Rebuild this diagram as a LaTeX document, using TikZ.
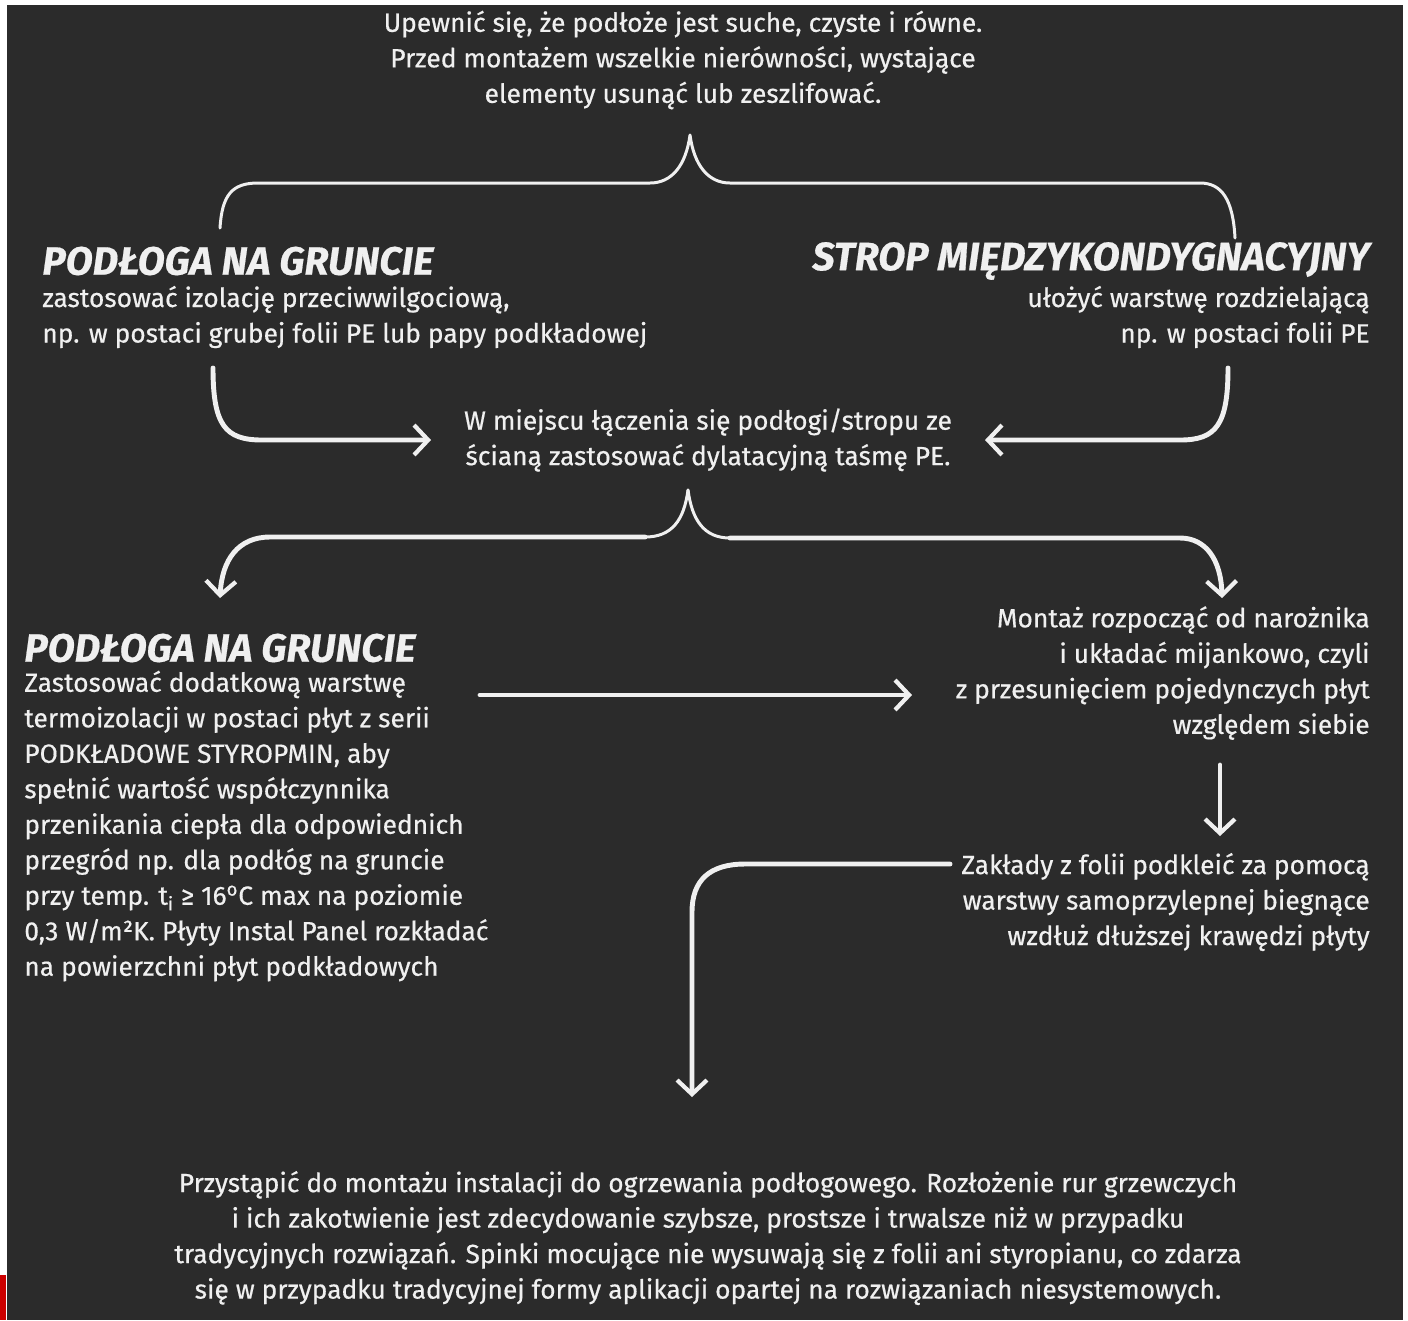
\documentclass[tikz,border=0pt]{standalone}
\usepackage{fontspec}
\setmainfont[FakeBold=0.5]{Fira Sans}
\usetikzlibrary{positioning}
\usetikzlibrary{arrows.meta}
\definecolor{board}{HTML}{2B2B2B}
\definecolor{chalk}{HTML}{F0F0F0}

\begin{document}
\begin{tikzpicture}[x=0.02cm, y=-0.02cm,
    txt/.style={text=chalk, font=\fontsize{15}{20.2}\selectfont, inner sep=0pt},
    head/.style={text=chalk, font=\fontsize{22.5}{25}\selectfont\bfseries\itshape, inner sep=0pt},
    chalkline/.style={draw=chalk, line width=2.8pt, line cap=round, line join=round},
    thinchalk/.style={draw=chalk, line width=1.7pt, line cap=round, line join=round},
    chalkarrow/.style={-{Straight Barb[length=8pt, width=17pt, line width=2.4pt]}}]

    % Board
    \useasboundingbox (0,0) rectangle (1408,1320);
    \fill[white] (0,0) rectangle (1408,1320);
    \fill[board] (7,5) rectangle (1403,1320);
    \fill[red!80!black] (0,1275) rectangle (6,1320);

    % Nodes
    \node[txt, align=center] at (683,60) (prep) {Upewnić się, że podłoże jest suche, czyste i równe.\\Przed montażem wszelkie nierówności, wystające\\elementy usunąć lub zeszlifować.};
    \node[head, anchor=west] at (42,261) (ground_head) {PODŁOGA NA GRUNCIE};
    \node[txt, align=left, anchor=west] at (42,317) (ground_txt) {zastosować izolację przeciwwilgociową,\\np. w postaci grubej folii PE lub papy podkładowej};
    \node[head, anchor=east] at (1370,261) (strop_head) {STROP MIĘDZYKONDYGNACYJNY};
    \node[txt, align=right, anchor=east] at (1370,317) (strop_txt) {ułożyć warstwę rozdzielającą\\np. w postaci folii PE};
    \node[txt, align=center] at (708,440) (tape) {W miejscu łączenia się podłogi/stropu ze\\ścianą zastosować dylatacyjną taśmę PE.};
    \node[head, anchor=west] at (24,648) (extra_head) {PODŁOGA NA GRUNCIE};
    \node[txt, align=left, anchor=west] at (24,826) (extra_txt) {Zastosować dodatkową warstwę\\termoizolacji w postaci płyt z serii\\PODKŁADOWE STYROPMIN, aby\\spełnić wartość współczynnika\\przenikania ciepła dla odpowiednich\\przegród np. dla podłóg na gruncie\\przy temp. t\textsubscript{i} ≥ 16\textsuperscript{o}C max na poziomie\\0,3 W/m²K. Płyty Instal Panel rozkładać\\na powierzchni płyt podkładowych};
    \node[txt, align=right, anchor=east] at (1370,673) (start) {Montaż rozpocząć od narożnika\\i układać mijankowo, czyli\\z przesunięciem pojedynczych płyt\\względem siebie};
    \node[txt, align=right, anchor=east] at (1370,902) (laps) {Zakłady z folii podkleić za pomocą\\warstwy samoprzylepnej biegnące\\wzdłuż dłuższej krawędzi płyty};
    \node[txt, align=center] at (708,1238) (heating) {Przystąpić do montażu instalacji do ogrzewania podłogowego. Rozłożenie rur grzewczych\\i ich zakotwienie jest zdecydowanie szybsze, prostsze i trwalsze niż w przypadku\\tradycyjnych rozwiązań. Spinki mocujące nie wysuwają się z folii ani styropianu, co zdarza\\się w przypadku tradycyjnej formy aplikacji opartej na rozwiązaniach niesystemowych.};

    % Brace points
    \coordinate (peak1) at (690,135);
    \coordinate (peak2) at (688,490);
    \coordinate (ground_in) at (213,368);
    \coordinate (strop_in) at (1228,368);
    \coordinate (tape_l) at (431,440);
    \coordinate (tape_r) at (985,440);
    \coordinate (extra_in) at (220,598);
    \coordinate (start_in) at (1222,598);
    \coordinate (row_from) at (480,695);
    \coordinate (row_to) at (912,695);
    \coordinate (start_out) at (1220,765);
    \coordinate (laps_in) at (1220,836);
    \coordinate (laps_out) at (950,864);
    \coordinate (heating_in) at (692,1097);

    % Arrows
    \draw[thinchalk] (220,228) .. controls (222,195) and (232,183) .. (258,183) -- (650,183)
        .. controls (672,183) and (686,165) .. (peak1)
        .. controls (694,165) and (708,183) .. (730,183) -- (1200,183)
        .. controls (1222,183) and (1233,200) .. (1235,238);
    \draw[chalkline, chalkarrow] (ground_in) .. controls (213,425) and (225,440) .. (262,440) -- (tape_l);
    \draw[chalkline, chalkarrow] (strop_in) .. controls (1228,425) and (1216,440) .. (1180,440) -- (tape_r);
    \draw[thinchalk] (peak2) .. controls (684,520) and (672,537) .. (645,537);
    \draw[thinchalk] (peak2) .. controls (692,520) and (704,538) .. (730,538);
    \draw[chalkline, chalkarrow] (645,537) -- (270,537) .. controls (238,537) and (222,560) .. (extra_in);
    \draw[chalkline, chalkarrow] (730,538) -- (1180,538) .. controls (1206,538) and (1221,560) .. (start_in);
    \draw[chalkline, chalkarrow] (row_from) -- (row_to);
    \draw[chalkline, chalkarrow] (start_out) -- (laps_in);
    \draw[chalkline, chalkarrow] (laps_out) -- (745,864) .. controls (710,864) and (692,880) .. (692,912) -- (heating_in);

\end{tikzpicture}
\end{document}
